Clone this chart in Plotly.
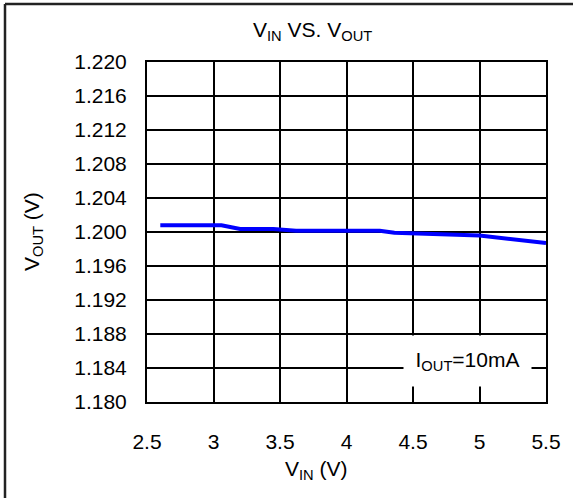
import plotly.graph_objects as go

# Data
vin = [2.6, 3.06, 3.2, 3.45, 3.62, 4.25, 4.36, 4.7, 5.0, 5.5]
vout = [1.2008, 1.2008, 1.20035, 1.20035, 1.20015, 1.20015, 1.1999, 1.1998, 1.1996, 1.1987]
x_ticks = [2.5, 3, 3.5, 4, 4.5, 5, 5.5]
x_tick_labels = ["2.5", "3", "3.5", "4", "4.5", "5", "5.5"]
y_ticks = [1.180, 1.184, 1.188, 1.192, 1.196, 1.200, 1.204, 1.208, 1.212, 1.216, 1.220]
y_tick_labels = ["%.3f" % v for v in y_ticks]

FONT = "Liberation Sans Narrow, Arial Narrow, Liberation Sans, Arial, sans-serif"
FS = 21

W, H = 573, 498
L, R, T, B = 147, 546, 62, 402
pw, ph = R - L, B - T

def px(x):
    return (x - L) / pw

def py(y):
    return (B - y) / ph

fig = go.Figure()
fig.add_trace(go.Scatter(x=vin, y=vout, mode="lines",
                         line=dict(color="#0000FF", width=4), showlegend=False))

fig.update_layout(
    width=W, height=H,
    margin=dict(l=L, r=W - R, t=T, b=H - B),
    paper_bgcolor="white", plot_bgcolor="white",
    font=dict(family=FONT, size=FS, color="black"),
    xaxis=dict(range=[2.5, 5.5], tickvals=x_ticks, ticktext=x_tick_labels,
               showgrid=True, gridcolor="black", gridwidth=1.5,
               showline=True, linecolor="black", linewidth=2, mirror=True,
               zeroline=False, ticks="", ticklabelstandoff=20,
               tickfont=dict(size=FS)),
    yaxis=dict(range=[1.180, 1.220], tickvals=y_ticks, ticktext=y_tick_labels,
               showgrid=True, gridcolor="black", gridwidth=1.5,
               showline=True, linecolor="black", linewidth=2, mirror=True,
               zeroline=False, ticks="", ticklabelstandoff=14,
               tickfont=dict(size=FS)),
)

# Title
fig.add_annotation(text="V<sub>IN</sub> VS. V<sub>OUT</sub>", xref="paper", yref="paper",
                   x=px(312), y=py(31), showarrow=False, font=dict(size=FS),
                   xanchor="center", yanchor="middle")
# X title
fig.add_annotation(text="V<sub>IN</sub> (V)", xref="paper", yref="paper",
                   x=px(316), y=py(470), showarrow=False, font=dict(size=FS),
                   xanchor="center", yanchor="middle")
# Y title
fig.add_annotation(text="V<sub>OUT</sub> (V)", xref="paper", yref="paper",
                   x=px(33), y=py(232), showarrow=False, font=dict(size=FS),
                   textangle=-90, xanchor="center", yanchor="middle")
# Condition label
fig.add_annotation(text="I<sub>OUT</sub>=10mA", xref="paper", yref="paper",
                   x=px(467), y=py(361), showarrow=False, font=dict(size=FS),
                   bgcolor="white", width=125, height=48,
                   xanchor="center", yanchor="middle")

# Outer frame (top and left edges)
fig.add_shape(type="line", xref="paper", yref="paper",
              x0=px(5), x1=px(575), y0=py(4), y1=py(4),
              line=dict(color="#222222", width=2.5))
fig.add_shape(type="line", xref="paper", yref="paper",
              x0=px(5), x1=px(5), y0=py(4), y1=py(500),
              line=dict(color="#222222", width=2.5))

fig.write_html("out.html")
